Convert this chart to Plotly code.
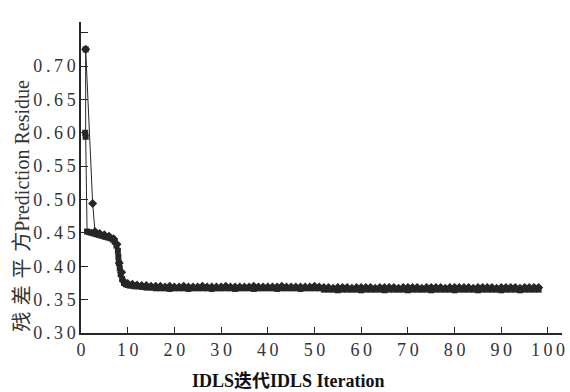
import plotly.graph_objects as go

# Series A (diamond markers)
x_a = [1.0, 2.5, 3.0, 4.0, 5.0, 6.0, 7.0, 7.7, 8.2, 8.7, 9.2, 10, 11, 12, 13, 14, 15,
       16, 17, 18, 19, 20, 21, 22, 23, 24, 25, 26, 27, 28, 29, 30, 31, 32, 33, 34, 35,
       36, 37, 38, 39, 40, 41, 42, 43, 44, 45, 46, 47, 48, 49, 50, 51,
       52, 53, 54, 55, 56, 57, 58, 59, 60, 61, 62, 63, 64, 65, 66, 67, 68, 69, 70,
       71, 72, 73, 74, 75, 76, 77, 78, 79, 80, 81, 82, 83, 84, 85, 86, 87, 88, 89, 90,
       91, 92, 93, 94, 95, 96, 97, 98]
y_a = [0.725, 0.494, 0.452, 0.449, 0.447, 0.445, 0.441, 0.433, 0.405, 0.391, 0.377, 0.374, 0.373, 0.372, 0.371, 0.371, 0.370,
       0.370, 0.370, 0.369, 0.370, 0.369, 0.369, 0.370, 0.369, 0.369, 0.369, 0.370, 0.369, 0.369, 0.369, 0.369, 0.370, 0.369, 0.369, 0.369, 0.369,
       0.369, 0.370, 0.369, 0.369, 0.369, 0.369, 0.369, 0.370, 0.369, 0.369, 0.369, 0.369, 0.369, 0.369, 0.370, 0.369,
       0.368, 0.368, 0.367, 0.368, 0.368, 0.368, 0.367, 0.368, 0.368, 0.368, 0.368, 0.367, 0.368, 0.368, 0.368, 0.368, 0.367, 0.368, 0.368,
       0.368, 0.368, 0.367, 0.368, 0.368, 0.368, 0.368, 0.367, 0.368, 0.368, 0.368, 0.368, 0.368, 0.367, 0.368, 0.368, 0.368, 0.368, 0.367, 0.368,
       0.368, 0.368, 0.368, 0.367, 0.368, 0.368, 0.368, 0.368]

# Series B (square markers)
x_b = [1.0, 0.9, 1.0, 1.3, 1.8, 2.3, 2.8, 3.3, 3.8, 4.3, 4.8, 5.3, 5.8, 6.3, 6.8, 7.2, 7.6, 7.9, 8.0, 8.1,
       8.3, 8.5, 8.8, 9.2, 9.6, 10, 10.5, 11, 11.5, 12, 13, 14, 15,
       16, 17, 18, 19, 20, 21, 22, 23, 24, 25, 26, 27, 28, 29, 30, 31, 32, 33, 34, 35,
       36, 37, 38, 39, 40, 41, 42, 43, 44, 45, 46, 47, 48, 49, 50, 51,
       52, 53, 54, 55, 56, 57, 58, 59, 60, 61, 62, 63, 64, 65, 66, 67, 68, 69, 70,
       71, 72, 73, 74, 75, 76, 77, 78, 79, 80, 81, 82, 83, 84, 85, 86, 87, 88, 89, 90,
       91, 92, 93, 94, 95, 96, 97, 98]
y_b = [0.725, 0.600, 0.594, 0.452, 0.451, 0.450, 0.449, 0.448, 0.447, 0.446, 0.445, 0.444, 0.443, 0.442, 0.440, 0.437, 0.431, 0.423, 0.414, 0.405,
       0.397, 0.388, 0.381, 0.375, 0.373, 0.372, 0.371, 0.371, 0.370, 0.370, 0.369, 0.368, 0.368,
       0.367, 0.367, 0.367, 0.366, 0.367, 0.367, 0.367, 0.366, 0.367, 0.367, 0.367, 0.367, 0.366, 0.367, 0.367, 0.367, 0.367, 0.366, 0.367, 0.367,
       0.367, 0.366, 0.367, 0.367, 0.367, 0.367, 0.366, 0.367, 0.367, 0.367, 0.367, 0.366, 0.367, 0.367, 0.367, 0.367,
       0.365, 0.365, 0.365, 0.364, 0.365, 0.365, 0.365, 0.365, 0.364, 0.365, 0.365, 0.365, 0.365, 0.364, 0.365, 0.365, 0.365, 0.365, 0.364,
       0.365, 0.365, 0.365, 0.365, 0.364, 0.365, 0.365, 0.365, 0.365, 0.364, 0.365, 0.365, 0.365, 0.365, 0.364, 0.365, 0.365, 0.365, 0.365, 0.364,
       0.365, 0.365, 0.365, 0.364, 0.365, 0.365, 0.365, 0.365]

x_ticks = [0, 10, 20, 30, 40, 50, 60, 70, 80, 90, 100]
x_tick_labels = ["0", "10", "20", "30", "40", "50", "60", "70", "80", "90", "100"]
y_ticks = [0.30, 0.35, 0.40, 0.45, 0.50, 0.55, 0.60, 0.65, 0.70, 0.75]
y_tick_labels = ["0.30", "0.35", "0.40", "0.45", "0.50", "0.55", "0.60", "0.65", "0.70", ""]

x_title = "<b>IDLS迭代IDLS Iteration</b>"
y_title_cn = "残差平方"
y_title_en = "Prediction Residue"

THIN = "\u2009"
CJK_GAP = "\u2004"


def spaced(s, gap=THIN):
    return gap.join(list(s))


ink = "#262626"
font_fam = "Liberation Serif, 'Noto Sans CJK SC', serif"

fig = go.Figure()
fig.add_trace(go.Scatter(
    x=x_b, y=y_b, mode="lines+markers",
    line=dict(color=ink, width=1),
    marker=dict(symbol="square", size=6, color=ink),
    showlegend=False,
))
fig.add_trace(go.Scatter(
    x=x_a, y=y_a, mode="lines+markers",
    line=dict(color=ink, width=1),
    marker=dict(symbol="diamond", size=7, color=ink),
    showlegend=False,
))

fig.update_layout(
    width=570, height=392,
    margin=dict(l=81, r=5, t=22, b=59),
    paper_bgcolor="white", plot_bgcolor="white",
    font=dict(family=font_fam, size=18, color="#333333"),
    xaxis=dict(
        range=[0, 103], tickvals=x_ticks, ticktext=[spaced(t) for t in x_tick_labels],
        ticks="inside", ticklen=6,
        tickcolor=ink, tickwidth=1.3, showline=True, linecolor=ink, linewidth=1.5,
        showgrid=False, zeroline=False, tickfont=dict(size=18),
    ),
    yaxis=dict(
        range=[0.30, 0.766], tickvals=y_ticks, ticktext=[spaced(t) for t in y_tick_labels],
        ticks="inside", ticklen=7, tickcolor=ink, tickwidth=1.3,
        showline=True, linecolor=ink, linewidth=1.5,
        showgrid=False, zeroline=False, tickfont=dict(size=18),
    ),
    annotations=[
        dict(text=x_title, xref="paper", yref="paper", x=0.432, y=-0.154,
             showarrow=False, xanchor="center", yanchor="middle",
             font=dict(size=18, color="#111111", family=font_fam)),
        dict(text=spaced(y_title_cn, CJK_GAP) + y_title_en, xref="paper", yref="paper",
             x=-0.122, y=0.41,
             showarrow=False, xanchor="center", yanchor="middle", textangle=-90,
             font=dict(size=20, color="#333333", family=font_fam)),
    ],
)

fig.write_html("out.html", post_script="document.body.style.margin='0';",
               config={"displayModeBar": False})
